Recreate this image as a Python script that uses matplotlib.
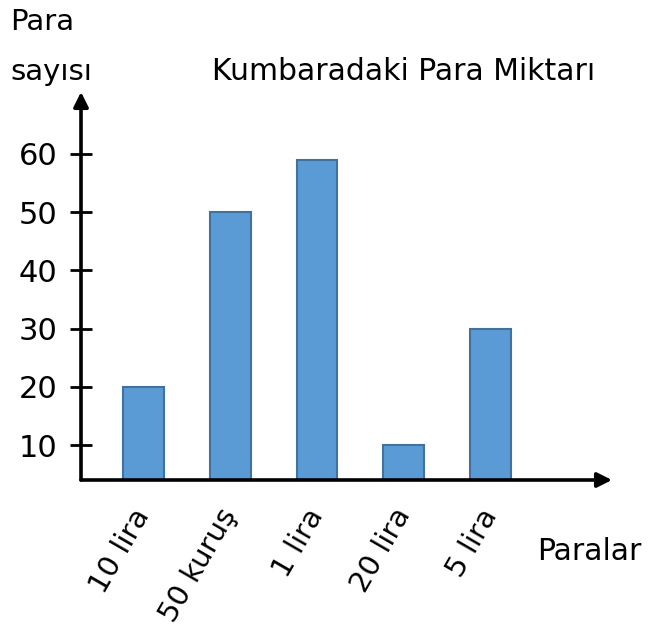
import matplotlib.pyplot as plt
import numpy as np

# --- Kumbaradaki Para Miktarı ---

paralar = ["10 lira", "50 kuruş", "1 lira", "20 lira", "5 lira"]
para_sayisi = [20, 50, 59, 10, 30]
y_ticks = [10, 20, 30, 40, 50, 60]

plt.rcParams['font.family'] = ['DejaVu Sans']

fig = plt.figure(figsize=(6.48, 6.30), dpi=100)
ax = fig.add_axes([81 / 648, 1 - 480 / 630, (612 - 81) / 648, (480 - 92) / 630])

x = np.arange(len(paralar))
ax.bar(x, para_sayisi, width=0.47, color='#5B9BD5', edgecolor='#41719C', linewidth=1.5, zorder=2)

ax.set_xlim(-0.72, 5.40)
ax.set_ylim(4, 70.6)

for s in ax.spines.values():
    s.set_visible(False)

# axes with arrow heads
ax.annotate('', xy=(1, 0), xytext=(0, 0), xycoords='axes fraction',
            arrowprops=dict(arrowstyle='-|>', lw=2.6, color='black', mutation_scale=22, shrinkA=0, shrinkB=0))
ax.annotate('', xy=(0, 1), xytext=(0, 0), xycoords='axes fraction',
            arrowprops=dict(arrowstyle='-|>', lw=2.6, color='black', mutation_scale=22, shrinkA=0, shrinkB=0))

ax.set_yticks(y_ticks)
ax.set_yticklabels([str(v) for v in y_ticks], fontsize=22)
ax.tick_params(axis='y', direction='inout', length=16, width=2, pad=9)

ax.set_xticks(x)
ax.set_xticklabels(paralar, rotation=60, ha='right', va='center', rotation_mode='anchor', fontsize=21)
ax.tick_params(axis='x', length=0, pad=22)

fig.text(10 / 648, 1 - 22 / 630, "Para", fontsize=21, ha='left', va='center')
fig.text(10 / 648, 1 - 72 / 630, "sayısı", fontsize=21, ha='left', va='center')
fig.text(404 / 648, 1 - 72 / 630, "Kumbaradaki Para Miktarı", fontsize=21.5, ha='center', va='center')
fig.text(589 / 648, 1 - 552 / 630, "Paralar", fontsize=21.5, ha='center', va='center')

fig.savefig("out.png", dpi=100)
plt.close(fig)
